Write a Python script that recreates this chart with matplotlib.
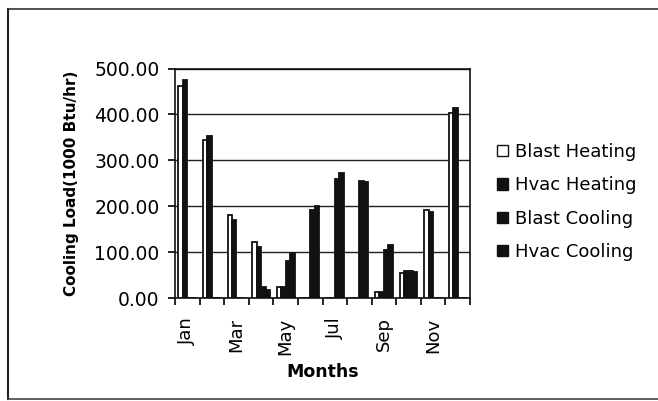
import matplotlib
matplotlib.use("Agg")
import matplotlib.pyplot as plt
from matplotlib.lines import Line2D
from matplotlib.patches import Patch
import numpy as np

months = ["Jan", "Feb", "Mar", "Apr", "May", "Jun", "Jul", "Aug", "Sep", "Oct", "Nov", "Dec"]
blast_heating = [461, 345, 181, 121, 23, 0, 0, 0, 12, 54, 192, 404]
hvac_heating = [474, 354, 170, 112, 23, 0, 0, 0, 14, 59, 188, 415]
blast_cooling = [0, 0, 0, 25, 80, 192, 260, 254, 104, 58, 0, 0]
hvac_cooling = [0, 0, 0, 18, 99, 201, 272, 252, 116, 57, 0, 0]
series_names = ["Blast Heating", "Hvac Heating", "Blast Cooling", "Hvac Cooling"]
y_ticks = [0, 100, 200, 300, 400, 500]

plt.rcParams['font.family'] = ['DejaVu Sans']

fig = plt.figure(figsize=(6.58, 4.01), dpi=100)
ax = fig.add_axes([175/658, 1 - 298/401, (470-175)/658, (298-68.5)/401])

x = np.arange(len(months))
w = 1/5.5
series = [blast_heating, hvac_heating, blast_cooling, hvac_cooling]
faces = ["white", "#111111", "#111111", "#111111"]
for k, (vals, fc) in enumerate(zip(series, faces)):
    ax.bar(x + (k - 1.5) * w, vals, width=w, color=fc, edgecolor="#111111",
           linewidth=1.3, zorder=3, label=series_names[k])

ax.set_xlim(-0.5, 11.5)
ax.set_ylim(0, 500)
ax.set_yticks(y_ticks)
ax.set_yticklabels([f"{v:.2f}" for v in y_ticks], fontsize=13.5)
ax.yaxis.grid(True, color="#222222", linewidth=1.0, zorder=0)
ax.tick_params(axis="y", direction="out", length=5, width=1.2, pad=6)

ax.set_xticks(np.arange(-0.5, 12, 1))
ax.set_xticklabels([])
ax.tick_params(axis="x", which="major", direction="out", length=5, width=1.2)
ax.set_xticks(x[::2], minor=True)
ax.set_xticklabels(months[::2], minor=True, rotation=90, fontsize=13)
ax.tick_params(axis="x", which="minor", length=0, pad=14)

for s in ax.spines.values():
    s.set_color("#111111")
    s.set_linewidth(1.2)

ax.set_ylabel("Cooling Load(1000 Btu/hr)", fontsize=11, fontweight="bold", labelpad=11)
ax.set_xlabel("Months", fontsize=12.5, fontweight="bold", labelpad=6)

handles = [Patch(facecolor=fc, edgecolor="#111111", linewidth=1.0) for fc in faces]
fig.legend(handles, series_names, loc="upper left",
           bbox_to_anchor=(497/658, 1 - 143/401), frameon=False, fontsize=13,
           handlelength=0.6, handleheight=0.6, handletextpad=0.4,
           labelspacing=0.85, borderaxespad=0, borderpad=0)

# outer chart frame
fig.add_artist(Line2D([8/658, 8/658], [1 - 8.5/401, 1 - 399/401], transform=fig.transFigure,
                      color="#222222", linewidth=1.5))
fig.add_artist(Line2D([8/658, 1.0], [1 - 8.5/401, 1 - 8.5/401], transform=fig.transFigure,
                      color="#333333", linewidth=1.2))
fig.add_artist(Line2D([8/658, 1.0], [1 - 399/401, 1 - 399/401], transform=fig.transFigure,
                      color="#444444", linewidth=1.2))

fig.savefig("out.png", dpi=100)
